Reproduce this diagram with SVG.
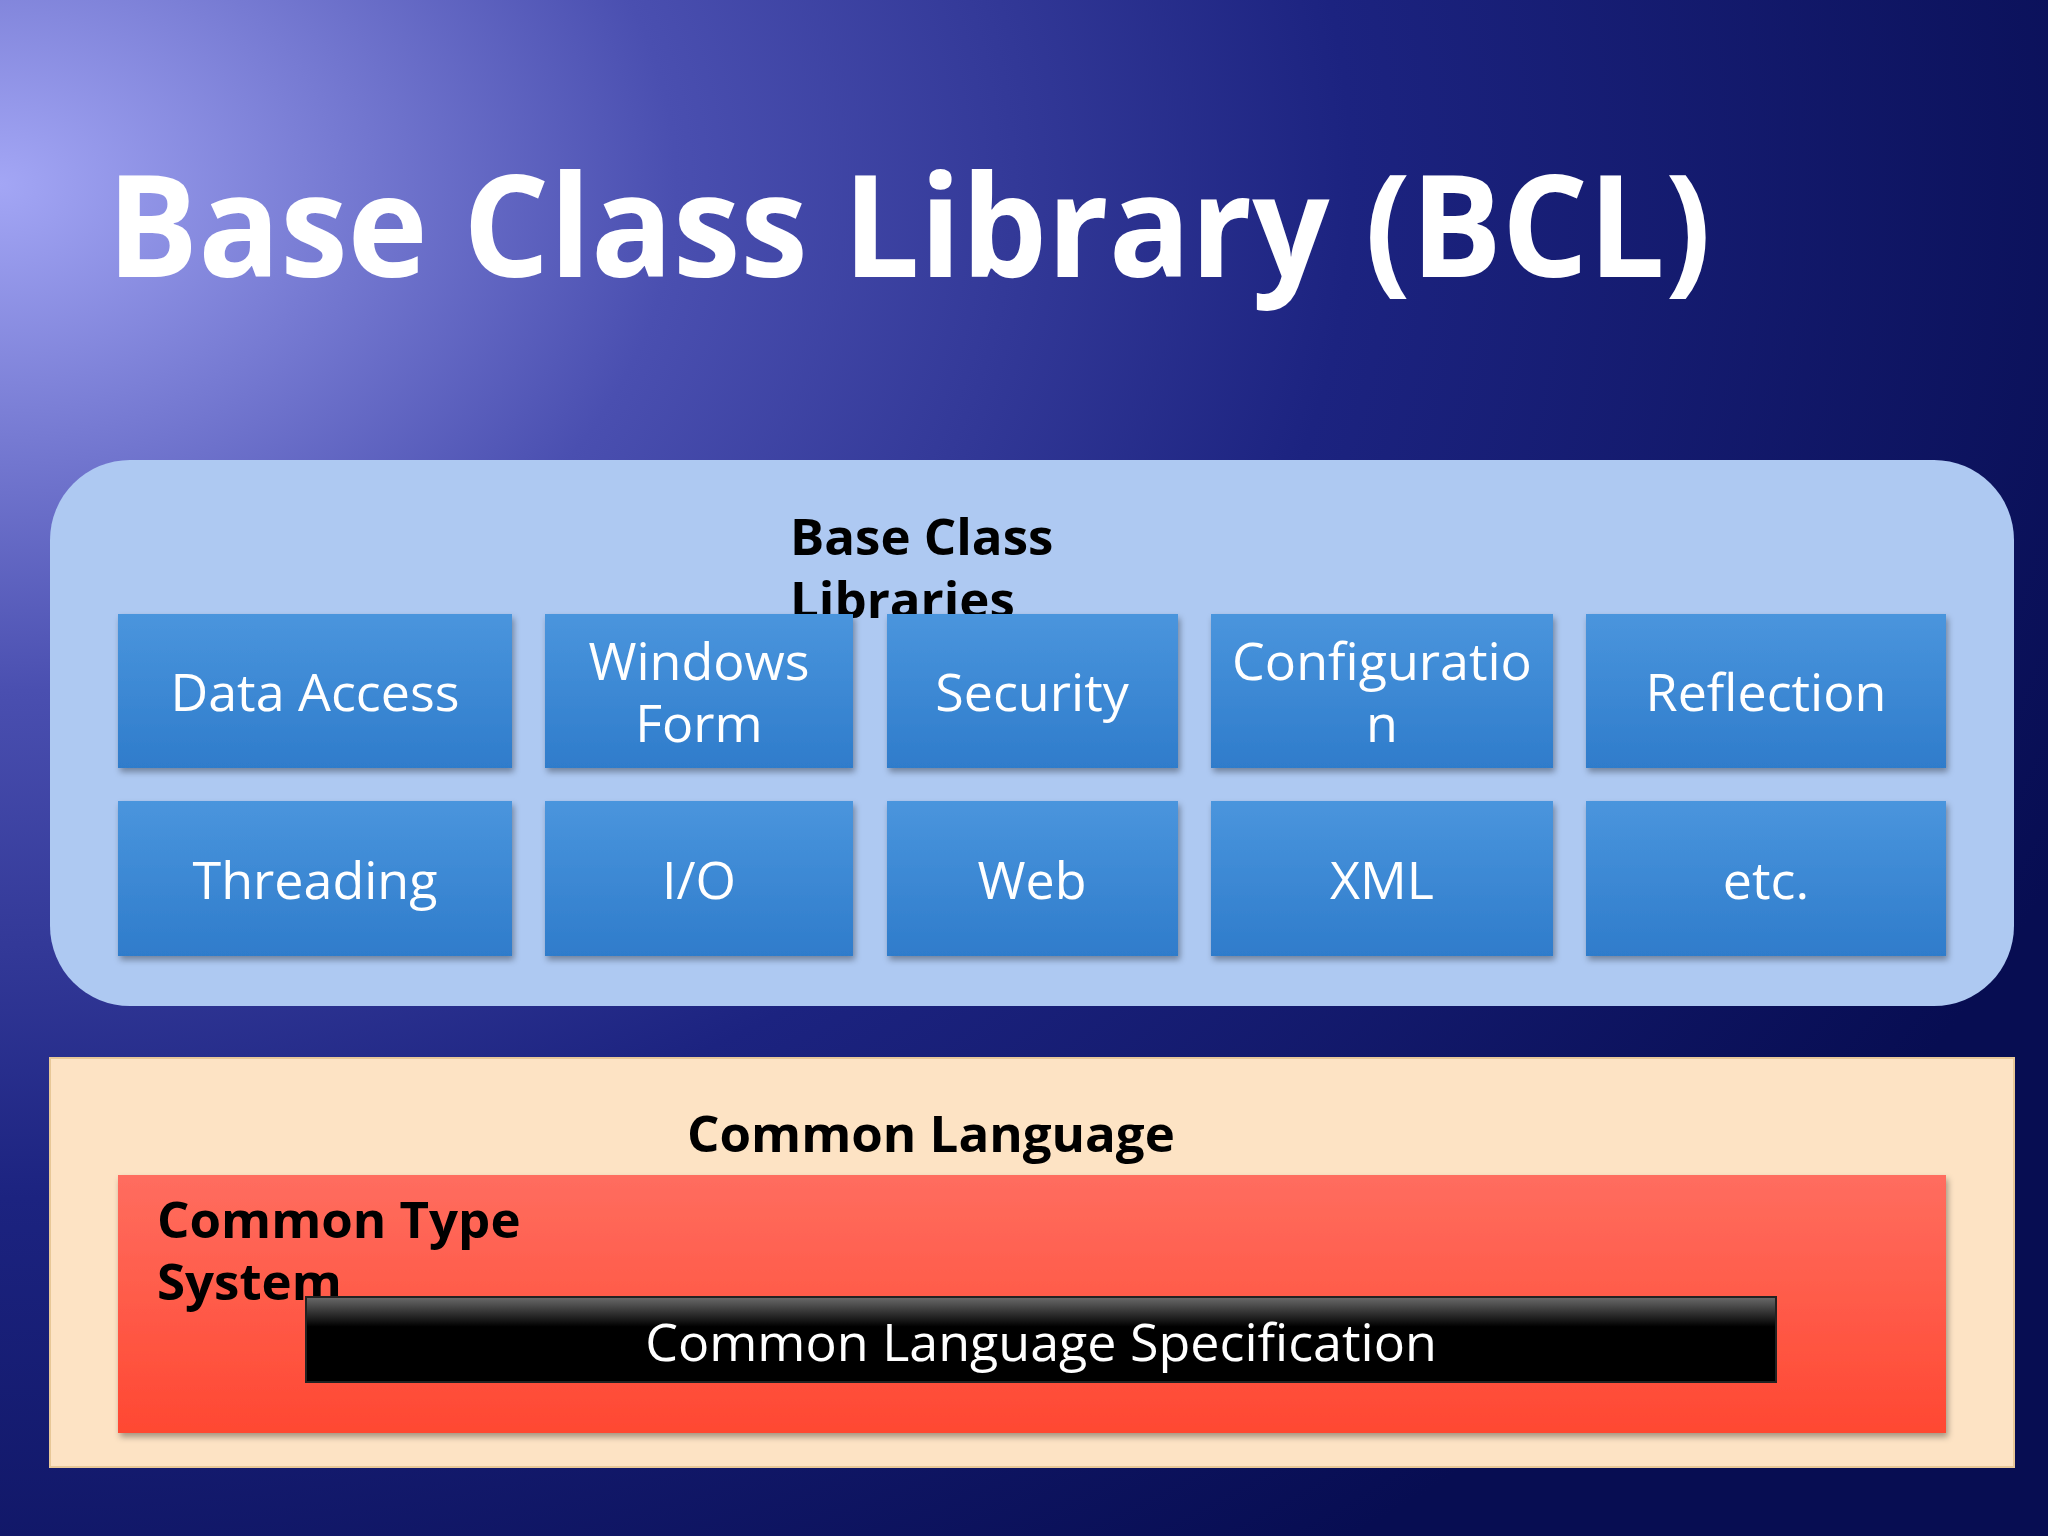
<svg xmlns="http://www.w3.org/2000/svg" width="2048" height="1536" viewBox="0 0 2048 1536">
<defs>
<radialGradient id="bg" cx="0" cy="0.12" r="1.1" fx="0" fy="0.12">
<stop offset="0" stop-color="#a3a6f5"/>
<stop offset="0.3" stop-color="#4a4fb0"/>
<stop offset="0.6" stop-color="#1c2380"/>
<stop offset="1" stop-color="#070d52"/>
</radialGradient>
<linearGradient id="box" x1="0" y1="0" x2="0" y2="1">
<stop offset="0" stop-color="#4a95dd"/>
<stop offset="1" stop-color="#2f7ccb"/>
</linearGradient>
<linearGradient id="red" x1="0" y1="0" x2="0" y2="1">
<stop offset="0" stop-color="#ff6d5f"/>
<stop offset="1" stop-color="#ff4832"/>
</linearGradient>
<linearGradient id="blk" x1="0" y1="0" x2="0" y2="1">
<stop offset="0" stop-color="#6a6a6a"/>
<stop offset="0.35" stop-color="#000"/>
<stop offset="1" stop-color="#000"/>
</linearGradient>
<filter id="sh" x="-5%" y="-5%" width="110%" height="115%"><feDropShadow dx="2" dy="4" stdDeviation="3" flood-opacity="0.35"/></filter>
</defs>
<style>
.t{font-family:"Open Sans","Noto Sans",sans-serif;}
.bx{fill:url(#box);filter:url(#sh);}
.lb{font-family:"Open Sans","Noto Sans",sans-serif;font-size:52px;fill:#fff;text-anchor:middle;}
.hd{font-family:"Open Sans","Noto Sans",sans-serif;font-size:51px;font-weight:bold;fill:#000;}
</style>
<rect width="2048" height="1536" fill="url(#bg)"/>
<text class="t" x="107" y="277" font-size="142" font-weight="bold" fill="#fff" textLength="1604" lengthAdjust="spacingAndGlyphs">Base Class Library (BCL)</text>
<g id="bcl">
<rect x="50" y="460" width="1964" height="546" rx="80" fill="#aec9f2"/>
<text class="hd" x="790" y="555">Base Class</text>
<text class="hd" x="790" y="618">Libraries</text>
</g>
<g id="n1"><rect class="bx" x="118" y="614" width="394" height="154"/><text class="lb" x="315" y="711">Data Access</text></g>
<g id="n2"><rect class="bx" x="545" y="614" width="308" height="154"/><text class="lb" x="699" y="680">Windows</text><text class="lb" x="699" y="742">Form</text></g>
<g id="n3"><rect class="bx" x="887" y="614" width="291" height="154"/><text class="lb" x="1032" y="711">Security</text></g>
<g id="n4"><rect class="bx" x="1211" y="614" width="342" height="154"/><text class="lb" x="1382" y="680">Configuratio</text><text class="lb" x="1382" y="742">n</text></g>
<g id="n5"><rect class="bx" x="1586" y="614" width="360" height="154"/><text class="lb" x="1766" y="711">Reflection</text></g>
<g id="n6"><rect class="bx" x="118" y="801" width="394" height="155"/><text class="lb" x="315" y="899">Threading</text></g>
<g id="n7"><rect class="bx" x="545" y="801" width="308" height="155"/><text class="lb" x="699" y="899">I/O</text></g>
<g id="n8"><rect class="bx" x="887" y="801" width="291" height="155"/><text class="lb" x="1032" y="899">Web</text></g>
<g id="n9"><rect class="bx" x="1211" y="801" width="342" height="155"/><text class="lb" x="1382" y="899">XML</text></g>
<g id="n10"><rect class="bx" x="1586" y="801" width="360" height="155"/><text class="lb" x="1766" y="899">etc.</text></g>
<g id="clr">
<rect x="50" y="1058" width="1964" height="409" fill="#fde3c4" stroke="#e8c898" stroke-width="2"/>
<text class="hd" x="687" y="1152">Common Language</text>
<text class="hd" x="687" y="1214">Runtime</text>
</g>
<g id="cts">
<rect x="118" y="1175" width="1828" height="258" fill="url(#red)" filter="url(#sh)"/>
<text class="hd" x="157" y="1238">Common Type</text>
<text class="hd" x="157" y="1300">System</text>
</g>
<g id="cls">
<rect x="306" y="1297" width="1470" height="85" fill="url(#blk)" stroke="#222" stroke-width="2"/>
<text class="lb" x="1041" y="1361">Common Language Specification</text>
</g>
<g id="connectors"/>
</svg>
